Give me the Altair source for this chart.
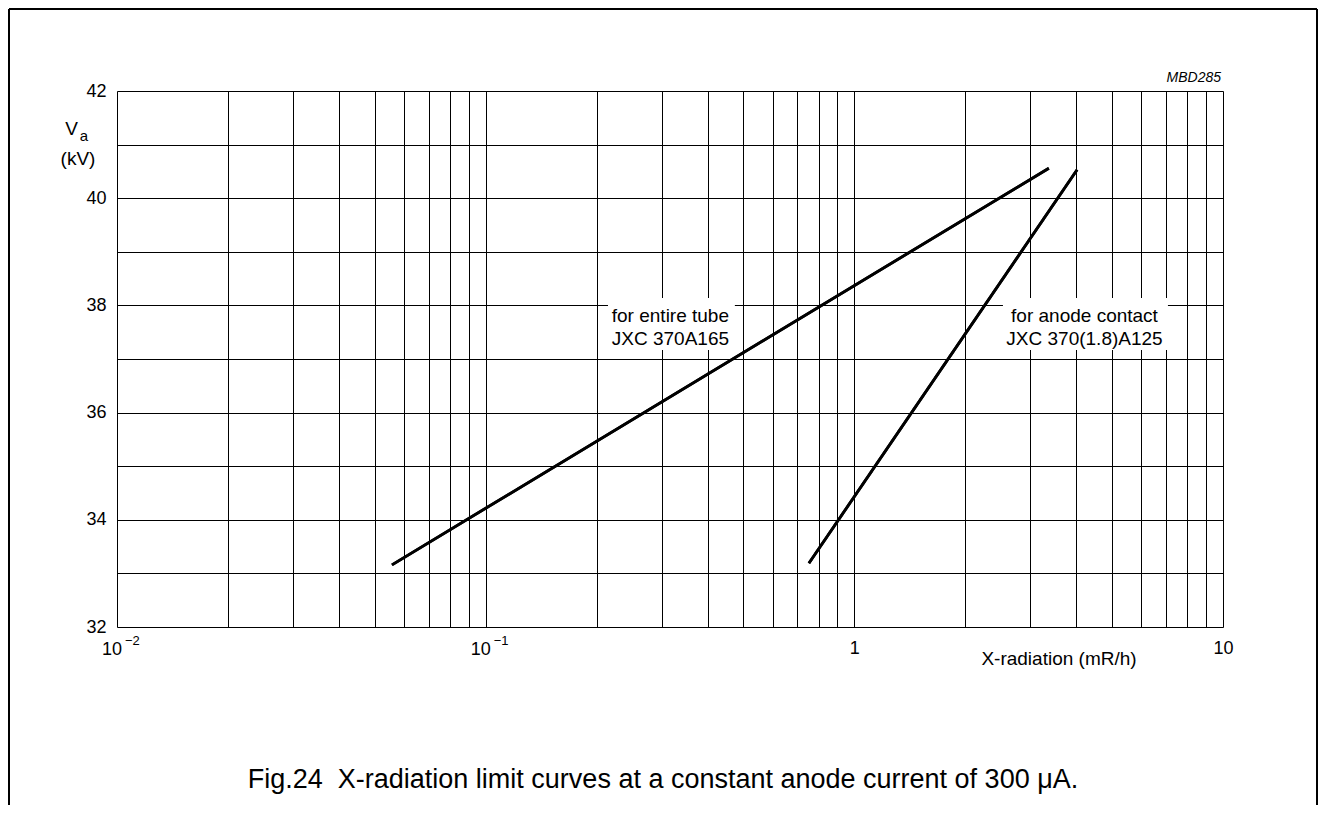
import altair as alt
import pandas as pd

# ---- data ----
series = ["for entire tube", "for anode contact"]
entire_x = [0.0557, 3.37]
entire_y = [33.16, 40.56]
anode_x = [0.753, 4.02]
anode_y = [33.19, 40.53]

label_text = ["for entire tube\nJXC 370A165", "for anode contact\nJXC 370(1.8)A125"]
label_x = [0.317, 4.21]
label_y = [37.80, 37.80]
box_x1 = [0.2147, 2.53]
box_x2 = [0.4742, 7.09]
box_y1 = [37.17, 37.17]
box_y2 = [38.14, 38.14]

x_ticks = [m * d for d in [0.01, 0.1, 1] for m in range(1, 10)] + [10]
y_ticks = list(range(32, 43))
x_tick_labels = {1: "1", 10: "10"}
pow_x = [0.01, 0.1]
pow_base = ["10", "10"]
pow_exp = ["\u22122", "\u22121"]

FONT = "Liberation Sans"
W, H = 1106, 536

lines_df = pd.DataFrame({
    "series": [series[0]] * 2 + [series[1]] * 2,
    "x": entire_x + anode_x,
    "y": entire_y + anode_y,
})
labels_df = pd.DataFrame({"text": label_text, "x": label_x, "y": label_y})
boxes_df = pd.DataFrame({"x1": box_x1, "x2": box_x2, "y1": box_y1, "y2": box_y2})
pow_df = pd.DataFrame({"x": pow_x, "base": pow_base, "exp": pow_exp})

x_expr = " : ".join(
    f"abs(datum.value - {v}) < 1e-9 ? '{t}'" for v, t in x_tick_labels.items()
) + " : ''"

xscale = alt.Scale(type="log", domain=[0.01, 10], nice=False)
yscale = alt.Scale(domain=[32, 42], nice=False, zero=False)

lines = alt.Chart(lines_df).mark_line(color="black", strokeWidth=2.8).encode(
    x=alt.X("x:Q", scale=xscale, axis=alt.Axis(
        values=x_ticks, labelExpr=x_expr, title=None, ticks=False, domain=False,
        grid=True, gridColor="black", gridWidth=1, labelFontSize=18,
        labelColor="black", labelPadding=12, labelFont=FONT, labelOverlap=False,
        labelBound=False, labelFlush=False)),
    y=alt.Y("y:Q", scale=yscale, axis=alt.Axis(
        values=y_ticks, labelExpr="datum.value % 2 == 0 ? datum.label : ''",
        title=None, ticks=False, domain=False, grid=True, gridColor="black",
        gridWidth=1, labelFontSize=18, labelColor="black", labelPadding=11,
        labelFont=FONT, labelOverlap=False)),
    detail="series:N",
)

boxes = alt.Chart(boxes_df).mark_rect(fill="white", stroke=None).encode(
    x=alt.X("x1:Q", scale=xscale), x2="x2:Q",
    y=alt.Y("y1:Q", scale=yscale), y2="y2:Q",
)

labels = alt.Chart(labels_df).mark_text(
    font=FONT, fontSize=19, color="black", lineBreak="\n", lineHeight=23,
    align="center", baseline="middle",
).encode(x=alt.X("x:Q", scale=xscale), y=alt.Y("y:Q", scale=yscale), text="text:N")

pow_base_layer = alt.Chart(pow_df).mark_text(
    font=FONT, fontSize=18, color="black", align="center", baseline="alphabetic", dx=-5,
).encode(x=alt.X("x:Q", scale=xscale), y=alt.value(H + 28), text="base:N")
pow_exp_layer = alt.Chart(pow_df).mark_text(
    font=FONT, fontSize=13, color="black", align="left", baseline="alphabetic", dx=8,
).encode(x=alt.X("x:Q", scale=xscale), y=alt.value(H + 18), text="exp:N")


def note(txt, x, y, size=19, align="center", baseline="middle", style="normal"):
    return alt.Chart(pd.DataFrame({"t": [txt]})).mark_text(
        font=FONT, fontSize=size, color="black", align=align, baseline=baseline,
        fontStyle=style,
    ).encode(x=alt.value(x), y=alt.value(y), text="t:N")


notes = [
    note("V", -45.5, 37.5),
    note("a", -33, 45, size=15),
    note("(kV)", -39, 68),
    note("X-radiation (mR/h)", 942, 568),
    note("MBD285", 1104, -9, size=14, align="right", baseline="alphabetic", style="italic"),
    note("Fig.24\u00a0 X-radiation limit curves at a constant anode current of 300 \u03bcA.",
         546, 689, size=27),
]

frame_left = alt.Chart(pd.DataFrame({"k": [0]})).mark_rule(color="black", strokeWidth=2).encode(
    x=alt.value(-108), y=alt.value(-82), y2=alt.value(714))
frame_top = alt.Chart(pd.DataFrame({"k": [0]})).mark_rule(color="black", strokeWidth=2).encode(
    x=alt.value(-108), x2=alt.value(1200), y=alt.value(-82))
frame_right = alt.Chart(pd.DataFrame({"k": [0]})).mark_rule(color="black", strokeWidth=2).encode(
    x=alt.value(1200), y=alt.value(-82), y2=alt.value(714))

chart = alt.layer(
    lines, boxes, labels, lines, pow_base_layer, pow_exp_layer, *notes,
    frame_left, frame_top, frame_right
).properties(
    width=W, height=H,
    autosize=alt.AutoSizeParams(type="none"),
    padding={"left": 109, "top": 83, "right": 95, "bottom": 178},
).configure_view(stroke="black", strokeWidth=1).configure(font=FONT, background="white")

chart.save("out.html", embed_options={"renderer": "svg", "actions": False})
